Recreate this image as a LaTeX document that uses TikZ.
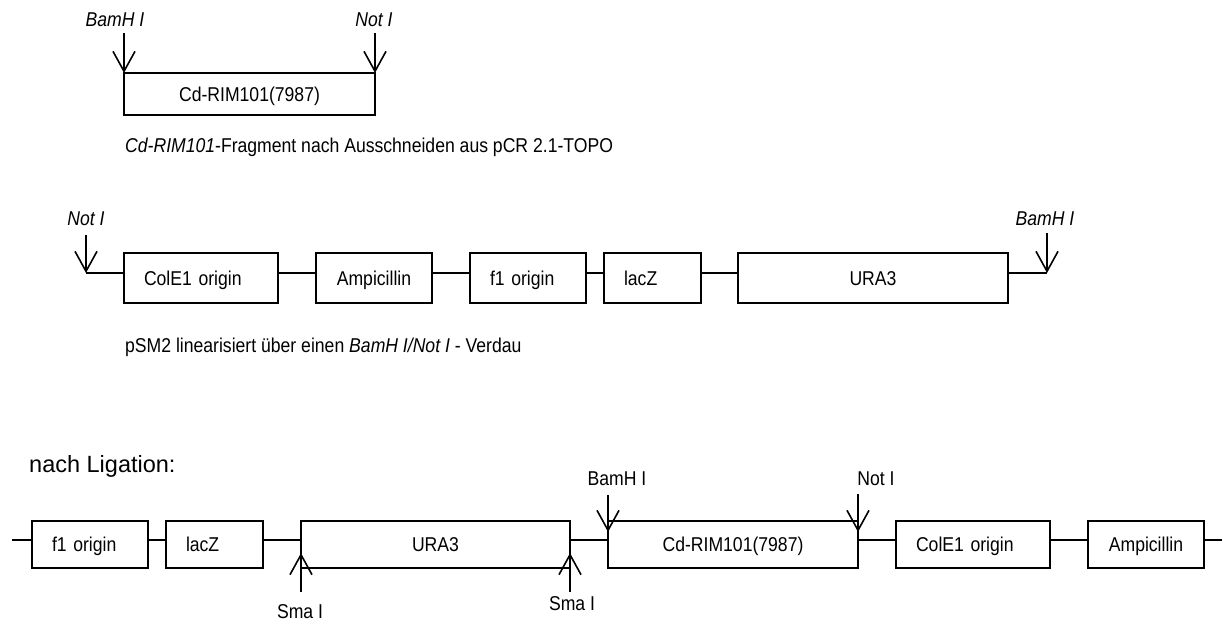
\documentclass[tikz,border=0pt]{standalone}
\usepackage{fontspec}
\setmainfont{Liberation Sans}[FakeStretch=0.88]
\newfontfamily\widesans{Liberation Sans}
\usetikzlibrary{arrows.meta}

\begin{document}
\begin{tikzpicture}[x=1pt, y=-1pt,
  % Node Styles
  gene/.style={rectangle, draw, line width=1.6pt, outer sep=0pt, inner xsep=20pt, inner ysep=0pt, anchor=west, text width=#1, text height=14.3pt, text depth=0pt, font=\fontsize{20}{24}\selectfont},
  site/.style={inner sep=0pt, font=\fontsize{20}{24}\selectfont},
  legend/.style={anchor=base west, inner sep=0pt, font=\fontsize{20}{24}\selectfont},
  % Arrow Styles
  dna/.style={line width=1.6pt},
  cutarrow/.style={line width=1.6pt, -{Straight Barb[length=20pt, width=22pt]}},
]
\useasboundingbox (0,0) rectangle (1223,622);

% Fragment nach Ausschneiden
\node[gene=211pt, align=center, minimum height=42pt] (frag) at (124,94) {Cd-RIM101(7987)};
\node[site] (bamA) at (115,20) {\itshape BamH I};
\node[site] (notA) at (374,20) {\itshape Not I};
\coordinate (bamAt) at (124,33);
\coordinate (notAt) at (375,33);
\draw[cutarrow] (bamAt) -- (frag.north west);
\draw[cutarrow] (notAt) -- (frag.north east);
\node[legend] (capA) at (125,152) {\textit{Cd-RIM101}-Fragment nach Ausschneiden aus pCR 2.1-TOPO};

% pSM2 linearisiert
\node[gene=114pt, align=left, minimum height=50pt] (colE) at (124,278) {ColE1 origin};
\node[gene=76pt, align=center, minimum height=50pt] (amp) at (316,278) {Ampicillin};
\node[gene=76pt, align=left, minimum height=50pt] (fori) at (470,278) {f1 origin};
\node[gene=57pt, align=left, minimum height=50pt] (lacz) at (604,278) {lacZ};
\node[gene=230pt, align=center, minimum height=50pt] (ura) at (738,278) {URA3};
\node[site] (notB) at (86,219) {\itshape Not I};
\node[site] (bamB) at (1045,219) {\itshape BamH I};
\coordinate (notBs) at (86,235);
\coordinate (notBt) at (86,273);
\coordinate (bamBs) at (1047,233);
\coordinate (bamBt) at (1047,273);
\draw[cutarrow] (notBs) -- (notBt);
\draw[cutarrow] (bamBs) -- (bamBt);
\draw[dna] (notBt) -- (notBt -| colE.west);
\foreach \a/\b in {colE/amp, amp/fori, fori/lacz, lacz/ura}
  \draw[dna] (\a.east |- notBt) -- (\b.west |- notBt);
\draw[dna] (ura.east |- bamBt) -- (bamBt);
\node[legend] (capB) at (125,352) {pSM2 linearisiert über einen \textit{BamH I/Not I} - Verdau};

% nach Ligation
\node[legend, font=\widesans\fontsize{23.5}{28}\selectfont] (capC) at (29,472) {nach Ligation:};
\node[gene=76pt, align=left, minimum height=47pt] (fori2) at (32,544.5) {f1 origin};
\node[gene=57pt, align=left, minimum height=47pt] (lacz2) at (166,544.5) {lacZ};
\node[gene=229pt, align=center, minimum height=47pt] (ura2) at (301,544.5) {URA3};
\node[gene=210pt, align=center, minimum height=47pt] (rim2) at (608,544.5) {Cd-RIM101(7987)};
\node[gene=114pt, align=left, minimum height=47pt] (colE2) at (896,544.5) {ColE1 origin};
\node[gene=76pt, align=center, minimum height=47pt] (amp2) at (1088,544.5) {Ampicillin};
\coordinate (lstart) at (12,540);
\coordinate (lend) at (1222,540);
\draw[dna] (lstart) -- (lstart -| fori2.west);
\foreach \a/\b in {fori2/lacz2, lacz2/ura2, ura2/rim2, rim2/colE2, colE2/amp2}
  \draw[dna] (\a.east |- lstart) -- (\b.west |- lstart);
\draw[dna] (amp2.east |- lstart) -- (lend);

\node[site] (bamC) at (617,479) {BamH I};
\node[site] (notC) at (876,479) {Not I};
\node[site] (smaA) at (300,612) {Sma I};
\node[site] (smaB) at (572,604) {Sma I};
\coordinate (bamCs) at (608,495);
\coordinate (bamCt) at (608,532);
\coordinate (notCs) at (858,494);
\coordinate (notCt) at (858,532);
\coordinate (smaAs) at (301,592);
\coordinate (smaAt) at (301,553);
\coordinate (smaBs) at (570,592);
\coordinate (smaBt) at (570,553);
\foreach \s in {bamC, notC, smaA, smaB}
  \draw[cutarrow] (\s s) -- (\s t);

\end{tikzpicture}
\end{document}
